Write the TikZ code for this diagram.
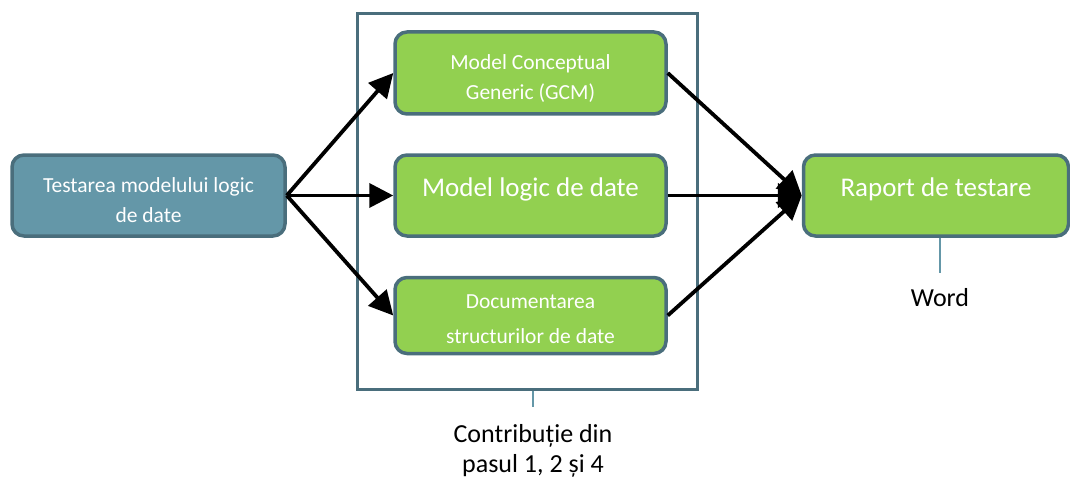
\documentclass[tikz,border=0pt]{standalone}
\usepackage{fontspec}
\setmainfont{Carlito}
\usetikzlibrary{arrows.meta,calc}
\definecolor{bord}{RGB}{74,110,124}
\definecolor{bluefill}{RGB}{100,151,168}
\definecolor{greenfill}{RGB}{146,208,80}
\definecolor{thin}{RGB}{100,151,168}
\newcommand{\twolines}[3]{\raisebox{0pt}[\dimexpr\height+#3\relax][\depth]{\begin{tabular}{@{}c@{}}#1\\#2\end{tabular}}}
\tikzset{
  box/.style={draw=bord, line width=3.5pt, rounded corners=12pt, text=white, inner sep=0pt},
  bluebox/.style={box, fill=bluefill},
  greenbox/.style={box, fill=greenfill},
  smalltxt/.style={font=\fontsize{21.5}{30}\selectfont},
  bigtxt/.style={font=\fontsize{27}{30}\selectfont},
  arr/.style={line width=3.8pt, -{Triangle[length=24pt,width=24pt]}},
  link/.style={draw=thin, line width=1.2pt},
  lbl/.style={align=center, font=\fontsize{26}{30}\selectfont, inner sep=0pt}
}
\begin{document}
\begin{tikzpicture}[x=1pt,y=-1pt]
\useasboundingbox (0,0) rectangle (1070,484);
\node[draw=bord, line width=3pt, minimum width=340pt, minimum height=375pt, inner sep=0pt] (frame) at (527,201.5) {};
\node[bluebox, smalltxt, minimum width=273pt, minimum height=81pt] (test) at (148.5,195.5) {\twolines{Testarea modelului logic}{de date}{12pt}};
\node[greenbox, smalltxt, minimum width=271pt, minimum height=82pt] (gcm) at (530.5,73) {\twolines{Model Conceptual}{Generic (GCM)}{12pt}};
\node[greenbox, bigtxt, minimum width=271pt, minimum height=81pt] (mld) at (530.5,195.5) {\raisebox{16pt}{Model logic de date}};
\node[greenbox, smalltxt, minimum width=271pt, minimum height=72pt] (doc) at (530.5,315.5) {\renewcommand{\arraystretch}{1.15}\twolines{Documentarea}{structurilor de date}{7pt}};
\node[greenbox, bigtxt, minimum width=265pt, minimum height=81pt] (rap) at (936,195.5) {\raisebox{16pt}{Raport de testare}};
\draw[arr] (test.east) -- (gcm.west);
\draw[arr] (test.east) -- (mld.west);
\draw[arr] (test.east) -- (doc.west);
\draw[arr] (gcm.east) -- (rap.west);
\draw[arr] (mld.east) -- (rap.west);
\draw[arr] (doc.east) -- (rap.west);
\node[lbl] (word) at (940,298) {Word};
\coordinate (wtop) at (940,273);
\draw[link] (rap.south -| wtop) -- (wtop);
\node[lbl] (contrib) at (533,451) {Contribuție din\\pasul 1, 2 și 4};
\coordinate (ctop) at (533,407);
\draw[link] (frame.south -| ctop) -- (ctop);
\end{tikzpicture}
\end{document}
